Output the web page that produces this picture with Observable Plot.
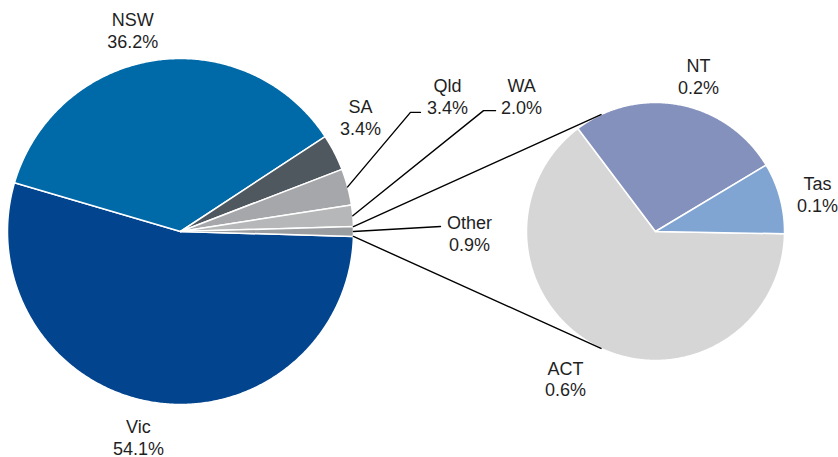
<!DOCTYPE html>
<html><head><meta charset="utf-8">
<script src="https://cdn.jsdelivr.net/npm/d3@7"></script>
<script src="https://cdn.jsdelivr.net/npm/@observablehq/plot@0.6"></script>
<style>html,body{margin:0;padding:0;background:#fff}</style>
</head><body><div id="chart"></div>
<script>
// ---- data ----
const mainLabels = ["Vic", "NSW", "SA", "Qld", "WA", "Other"];
const mainValues = [54.1, 36.2, 3.4, 3.4, 2.0, 0.9];
const subLabels = ["ACT", "NT", "Tas"];
const subValues = [0.58, 0.24, 0.08];

// ---- styles / layout ----
const mainColors = ["#03448f", "#0069a7", "#4f575f", "#a6a7aa", "#b6b7b9", "#9b9ea1"];
const subColors = ["#d6d6d6", "#8591bd", "#80a5d3"];
const W = 838, H = 457;
const mainPie = {cx: 180, cy: 231, r: 173};
const subPie = {cx: 655, cy: 231, r: 129};
const deg = Math.PI / 180;
// label placement: [angle nudge (deg) from slice mid-angle, distance from pie centre]
const labelPlace = {
  NSW: [-4.9, 206.7], Vic: [2.6, 209.3], SA: [-5.2, 213.1], Qld: [-11.9, 299.2],
  WA: [-16.5, 367.1], Other: [0.2, 289], ACT: [4.5, 172.4], NT: [4.4, 161.8], Tas: [1.8, 166.4]
};
// leader lines: end offset from label centre, elbow length
const leaders = {Qld: {end: [-27, 16], elbow: 10}, WA: {end: [-26, 15], elbow: 12}, Other: {end: [-29, -6], elbow: 0}};
const connectorSpread = 65; // deg around the left of the secondary pie

// ---- geometry ----
const sumMain = d3.sum(mainValues);
const mainStart = Math.PI / 2 + Math.PI * mainValues[mainValues.length - 1] / sumMain;
const mainArcs = d3.pie().sort(null).startAngle(mainStart).endAngle(mainStart + 2 * Math.PI)(mainValues);
const subStart = Math.PI / 2 + 1 * deg;
const subArcs = d3.pie().sort(null).startAngle(subStart).endAngle(subStart + 2 * Math.PI)(subValues);

function polar(p, a, r) { return [p.cx + r * Math.sin(a), p.cy - r * Math.cos(a)]; }
function slicePoly(p, arc, key) {
  const pts = [{key, x: p.cx, y: p.cy}];
  const n = Math.max(2, Math.ceil((arc.endAngle - arc.startAngle) / (0.5 * deg)));
  for (let i = 0; i <= n; i++) {
    const a = arc.startAngle + (arc.endAngle - arc.startAngle) * i / n;
    const [x, y] = polar(p, a, p.r);
    pts.push({key, x, y});
  }
  pts.push({key, x: p.cx, y: p.cy});
  return pts;
}

const slices = [];
mainArcs.forEach((a, i) => slices.push(...slicePoly(mainPie, a, mainLabels[i])));
subArcs.forEach((a, i) => slices.push(...slicePoly(subPie, a, subLabels[i])));

const labels = [];
function addLabels(p, arcs, names, values) {
  arcs.forEach((a, i) => {
    const name = names[i];
    const [nudge, dist] = labelPlace[name];
    const mid = (a.startAngle + a.endAngle) / 2;
    const [x, y] = polar(p, mid + nudge * deg, dist);
    labels.push({name, x, y, text: `${name}\n${values[i].toFixed(1)}%`, mid, p});
  });
}
addLabels(mainPie, mainArcs, mainLabels, mainValues);
addLabels(subPie, subArcs, subLabels, subValues);

const lines = [];
labels.forEach(l => {
  const ld = leaders[l.name];
  if (!ld) return;
  const [sx, sy] = polar(l.p, l.mid, l.p.r);
  const ex = l.x + ld.end[0], ey = l.y + ld.end[1];
  lines.push({key: l.name, x: sx, y: sy});
  if (ld.elbow) lines.push({key: l.name, x: ex - ld.elbow, y: ey});
  lines.push({key: l.name, x: ex, y: ey});
});
// connectors from the "Other" slice to the secondary pie
const otherArc = mainArcs[mainArcs.length - 1];
const [t0x, t0y] = polar(mainPie, otherArc.startAngle, mainPie.r);
const [t1x, t1y] = polar(subPie, (270 + connectorSpread) * deg, subPie.r);
const [b0x, b0y] = polar(mainPie, otherArc.endAngle, mainPie.r);
const [b1x, b1y] = polar(subPie, (270 - connectorSpread) * deg, subPie.r);
lines.push({key: "top", x: t0x, y: t0y}, {key: "top", x: t1x, y: t1y});
lines.push({key: "bottom", x: b0x, y: b0y}, {key: "bottom", x: b1x, y: b1y});

const chart = Plot.plot({
  width: W, height: H,
  margin: 0, marginTop: 0, marginRight: 0, marginBottom: 0, marginLeft: 0,
  x: {domain: [0, W], range: [0, W], axis: null},
  y: {domain: [0, H], range: [0, H], axis: null},
  color: {domain: [...mainLabels, ...subLabels], range: [...mainColors, ...subColors]},
  style: {background: "#fff", overflow: "visible"},
  marks: [
    Plot.line(slices, {x: "x", y: "y", z: "key", fill: "key", stroke: "#fff", strokeWidth: 1.5, strokeLinejoin: "round"}),
    Plot.line(lines, {x: "x", y: "y", z: "key", stroke: "#000", strokeWidth: 1.4}),
    Plot.text(labels, {x: "x", y: "y", text: "text", fontSize: 18, lineHeight: 1.22,
      fontFamily: "'Liberation Sans', Arial, sans-serif", fill: "#1f1f1f", textAnchor: "middle"})
  ]
});
document.getElementById("chart").appendChild(chart);
</script>
</body></html>
